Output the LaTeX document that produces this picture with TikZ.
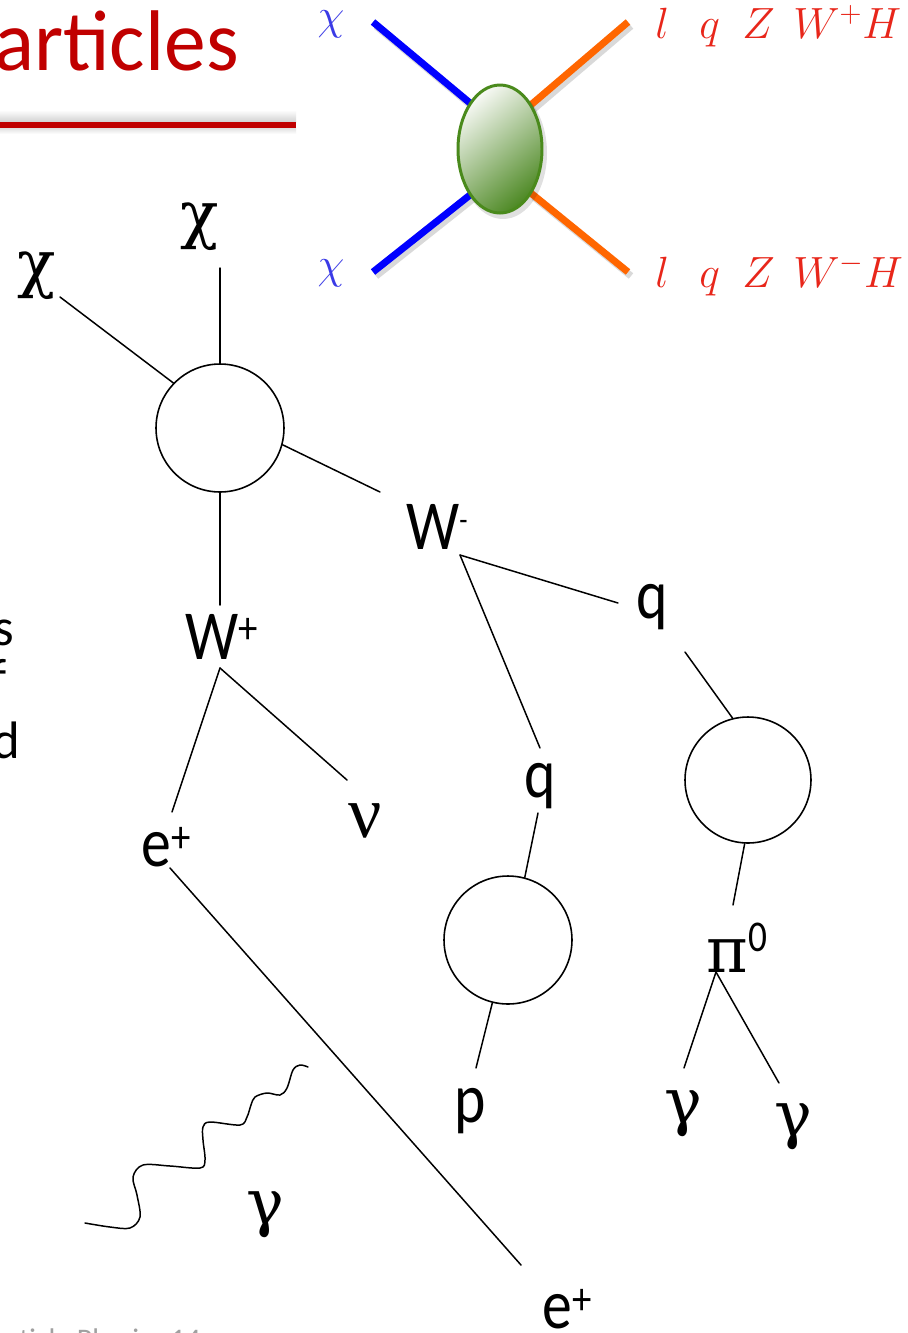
\documentclass[tikz,border=0pt]{standalone}
\usepackage{fontspec}
\setmainfont{Carlito}
\newfontfamily\grk{DejaVu Serif}
\newfontfamily\grkb{Liberation Serif}
\usetikzlibrary{shapes.geometric}
\definecolor{titlered}{HTML}{C00000}
\definecolor{lblue}{HTML}{0000FF}
\definecolor{lorange}{HTML}{FF6600}
\definecolor{mblue}{HTML}{3A3AE6}
\definecolor{mred}{HTML}{E8261A}
\definecolor{ellborder}{HTML}{4A8A1C}
\definecolor{elldark}{HTML}{4F8A26}
\definecolor{elllight}{HTML}{F6F8F3}
\definecolor{footgray}{HTML}{A0A0A0}
\newcommand\nar[1]{\scalebox{0.85}[1]{#1}}
\newcommand\mysup[3]{\raisebox{#1}{\fontsize{#2}{#2}\selectfont #3}}
\begin{document}
\begin{tikzpicture}[x=0.02cm,y=-0.02cm,
  lbl/.style={inner sep=0pt,font=\fontsize{40}{44}\selectfont},
  glbl/.style={inner sep=0pt,font=\grk\fontsize{36}{42}\selectfont},
  glblb/.style={inner sep=0pt,font=\grkb\fontsize{42}{48}\selectfont},
  blob/.style={circle,draw,line width=0.9pt,minimum size=2.56cm,inner sep=0pt},
  conn/.style={line width=0.85pt,line cap=round},
  fatline/.style={line width=4pt},
  shadowline/.style={line width=4pt,black,opacity=0.15},
  mlbl/.style={inner sep=0pt,anchor=base west,font=\fontsize{25}{29}\selectfont,text=mred},
  frag/.style={inner sep=0pt,anchor=base east,font=\fontsize{30}{34}\selectfont}]
\useasboundingbox (0,0) rectangle (908,1333);
\clip (0,0) rectangle (908,1333);
\fill[white] (0,0) rectangle (908,1333);

% ---- title fragment ----
\node[inner sep=0pt,anchor=base east,text=titlered,font=\fontsize{49}{52}\selectfont] (title) at (239,70) {\scalebox{0.97}[1]{articles}};
\shade[top color=white,bottom color=black!18] (0,110) rectangle (296,122);
\fill[titlered] (0,122) rectangle (296,128);
\shade[top color=black!12,bottom color=white] (0,128) rectangle (296,134);

% ---- left cut text fragments ----
\node[frag] (fs) at (14,645) {s};
\node[frag] (ff) at (7,695) {f};
\node[frag] (fd) at (21,758) {d};

% ---- footer fragment ----
\node[inner sep=0pt,anchor=base east,text=footgray,font=\fontsize{17}{20}\selectfont] (foot) at (201,1349) {Particle Physics 14};

% ---- top-right diagram ----
\coordinate (bUL) at (373,22);
\coordinate (bLL) at (373,272);
\coordinate (oUR) at (628,22);
\coordinate (oLR) at (628,272);
\node[ellipse,minimum width=1.68cm,minimum height=2.56cm,inner sep=0pt] (ell) at (500,149) {};
\draw[shadowline] ([shift={(3,4)}]bUL) -- ([shift={(3,4)}]ell.123);
\draw[shadowline] ([shift={(3,4)}]bLL) -- ([shift={(3,4)}]ell.237);
\draw[shadowline] ([shift={(3,4)}]oUR) -- ([shift={(3,4)}]ell.55);
\draw[shadowline] ([shift={(3,4)}]oLR) -- ([shift={(3,4)}]ell.305);
\draw[fatline,lblue] (bUL) -- (ell.123);
\draw[fatline,lblue] (bLL) -- (ell.237);
\draw[fatline,lorange] (oUR) -- (ell.55);
\draw[fatline,lorange] (oLR) -- (ell.305);
\fill[black,opacity=0.12] (503,153) ellipse (44 and 66);
\shade[top color=elllight,bottom color=elldark,shading angle=40,draw=ellborder,line width=1.7pt] (500,149) ellipse (42 and 64);

\node[inner sep=0pt,text=mblue,font=\fontsize{25}{29}\selectfont] (chiA) at (331,24) {$\chi$};
\node[inner sep=0pt,text=mblue,font=\fontsize{25}{29}\selectfont] (chiB) at (331,273) {$\chi$};
\node[mlbl] (l1) at (655,38) {$l$};
\node[mlbl] (q1) at (699,38) {$q$};
\node[mlbl] (z1) at (742,38) {$Z$};
\node[mlbl] (w1) at (793,38) {$W^{+}H$};
\node[mlbl] (l2) at (655,287) {$l$};
\node[mlbl] (q2) at (699,287) {$q$};
\node[mlbl] (z2) at (742,287) {$Z$};
\node[mlbl] (w2) at (793,287) {$W^{-}H$};

% ---- main diagram ----
\node[blob] (c1) at (220,428) {};
\node[blob] (c2) at (508,940) {};
\node[blob,minimum size=2.52cm] (c3) at (748,780) {};

\node[glbl] (chiL) at (37,276) {χ};
\node[glbl] (chiT) at (200,227) {χ};
\node[lbl] (Wp) at (222,637) {\nar{W\mysup{9pt}{26}{+}}};
\node[lbl] (Wm) at (437,527) {\nar{W\mysup{11pt}{18}{-}}};
\node[lbl] (qR) at (652,607) {\nar{q}};
\node[lbl] (qL) at (540,786) {\nar{q}};
\node[lbl] (ep1) at (166,847) {\nar{e\mysup{8pt}{26}{+}}};
\node[glblb] (nu) at (365,821) {ν};
\node[inner sep=0pt] (pi0) at (737,948) {{\grk\fontsize{36}{42}\selectfont π}\raisebox{12pt}{\fontsize{25}{25}\selectfont\nar{0}}};
\node[glbl] (gL) at (683,1114) {γ};
\node[glbl] (gR) at (793,1127) {γ};
\node[glbl] (gB) at (265,1215) {γ};
\node[lbl] (p) at (470,1111) {\nar{p}};
\node[lbl] (ep2) at (567,1309) {\nar{e\mysup{8pt}{26}{+}}};

\coordinate (aChiL) at (60,297);
\coordinate (aChiT) at (220,268);
\coordinate (aWmIn) at (380,492);
\coordinate (aWpIn) at (220,605);
\coordinate (aWpV) at (220,668);
\coordinate (aEp) at (172,812);
\coordinate (aNu) at (347,780);
\coordinate (aEpS) at (170,868);
\coordinate (aEpE) at (521,1265);
\coordinate (aWmV) at (460,555);
\coordinate (aQr) at (618,603);
\coordinate (aQl) at (540,748);
\coordinate (aQlOut) at (538,813);
\coordinate (aP) at (476,1068);
\coordinate (aQrOut) at (685,652);
\coordinate (aPiIn) at (733,905);
\coordinate (aPiV) at (716,972);
\coordinate (aGl) at (684,1068);
\coordinate (aGr) at (779,1083);

\draw[conn] (aChiL) -- (c1.136);
\draw[conn] (aChiT) -- (c1.north);
\draw[conn] (c1.-15) -- (aWmIn);
\draw[conn] (c1.south) -- (aWpIn);
\draw[conn] (aWpV) -- (aEp);
\draw[conn] (aWpV) -- (aNu);
\draw[conn] (aEpS) -- (aEpE);
\draw[conn] (aWmV) -- (aQr);
\draw[conn] (aWmV) -- (aQl);
\draw[conn] (aQlOut) -- (c2.75);
\draw[conn] (c2.256) -- (aP);
\draw[conn] (aQrOut) -- (c3.104);
\draw[conn] (c3.267) -- (aPiIn);
\draw[conn] (aPiV) -- (aGl);
\draw[conn] (aPiV) -- (aGr);

% ---- wavy photon ----
\coordinate (phA) at (85,1223);
\coordinate (phB) at (308,1067);
\draw[conn] plot[smooth,tension=0.55] coordinates {(85,1223) (110,1227) (130,1228) (140,1217) (137,1195) (133,1177) (143,1165) (170,1166) (200,1168) (205,1160) (203,1140) (203,1127) (210,1122) (240,1125) (247,1117) (251,1105) (255,1097) (267,1093) (280,1095) (287,1088) (293,1070) (300,1065) (308,1067)};
\end{tikzpicture}
\end{document}
